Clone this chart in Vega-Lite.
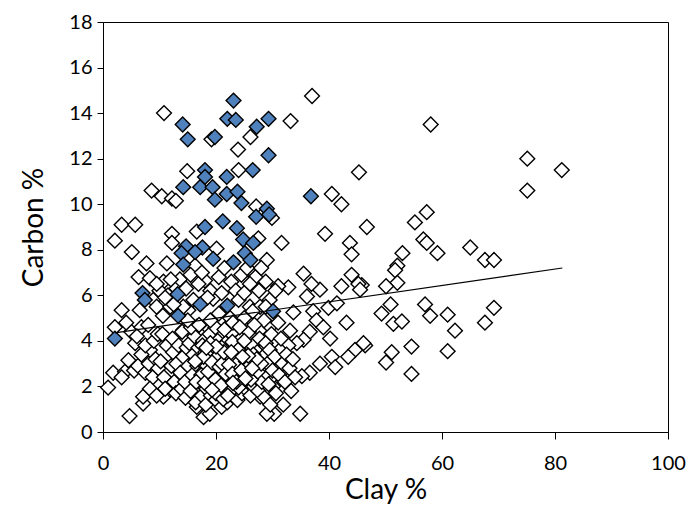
{
  "$schema": "https://vega.github.io/schema/vega-lite/v6.json",
  "width": 565,
  "height": 410,
  "autosize": "none",
  "padding": {"left": 103, "top": 22, "right": 23, "bottom": 77},
  "background": "white",
  "config": {
    "view": {"stroke": "black", "strokeWidth": 1},
    "font": "Lato",
    "axis": {"labelFont": "Lato", "titleFont": "Lato", "labelColor": "black", "titleColor": "black", "domainColor": "black", "tickColor": "black", "grid": false, "titleFontWeight": "normal"}
  },
  "datasets": {
    "pts": [
      {"x": 10.8, "y": 14.0, "g": "o"}, {"x": 37.0, "y": 14.75, "g": "o"}, {"x": 33.2, "y": 13.65, "g": "o"}, {"x": 19.2, "y": 12.85, "g": "o"},
      {"x": 26.1, "y": 12.95, "g": "o"}, {"x": 23.9, "y": 12.4, "g": "o"}, {"x": 14.9, "y": 11.45, "g": "o"}, {"x": 24.0, "y": 11.5, "g": "o"},
      {"x": 45.3, "y": 11.4, "g": "o"}, {"x": 58.0, "y": 13.5, "g": "o"}, {"x": 75.1, "y": 12.0, "g": "o"}, {"x": 81.2, "y": 11.5, "g": "o"},
      {"x": 75.1, "y": 10.6, "g": "o"}, {"x": 40.5, "y": 10.45, "g": "o"}, {"x": 42.2, "y": 10.0, "g": "o"}, {"x": 27.1, "y": 9.9, "g": "o"},
      {"x": 8.6, "y": 10.6, "g": "o"}, {"x": 10.4, "y": 10.35, "g": "o"}, {"x": 12.2, "y": 10.25, "g": "o"}, {"x": 12.9, "y": 10.15, "g": "o"},
      {"x": 29.9, "y": 9.4, "g": "o"}, {"x": 39.3, "y": 8.7, "g": "o"}, {"x": 46.7, "y": 9.0, "g": "o"}, {"x": 43.7, "y": 8.3, "g": "o"},
      {"x": 44.0, "y": 7.8, "g": "o"}, {"x": 31.6, "y": 8.3, "g": "o"}, {"x": 27.5, "y": 8.5, "g": "o"}, {"x": 29.0, "y": 7.55, "g": "o"},
      {"x": 57.3, "y": 9.65, "g": "o"}, {"x": 55.2, "y": 9.2, "g": "o"}, {"x": 56.7, "y": 8.45, "g": "o"}, {"x": 57.3, "y": 8.3, "g": "o"},
      {"x": 59.2, "y": 7.85, "g": "o"}, {"x": 65.0, "y": 8.1, "g": "o"}, {"x": 67.6, "y": 7.55, "g": "o"}, {"x": 69.2, "y": 7.55, "g": "o"},
      {"x": 53.0, "y": 7.85, "g": "o"}, {"x": 52.1, "y": 7.3, "g": "o"}, {"x": 51.7, "y": 7.1, "g": "o"}, {"x": 52.1, "y": 6.55, "g": "o"},
      {"x": 50.1, "y": 6.4, "g": "o"}, {"x": 45.8, "y": 6.45, "g": "o"}, {"x": 50.9, "y": 5.6, "g": "o"}, {"x": 57.0, "y": 5.6, "g": "o"},
      {"x": 69.2, "y": 5.45, "g": "o"}, {"x": 49.3, "y": 5.2, "g": "o"}, {"x": 57.9, "y": 5.1, "g": "o"}, {"x": 61.0, "y": 5.15, "g": "o"},
      {"x": 67.6, "y": 4.8, "g": "o"}, {"x": 51.4, "y": 4.75, "g": "o"}, {"x": 52.9, "y": 4.85, "g": "o"}, {"x": 62.3, "y": 4.45, "g": "o"},
      {"x": 46.4, "y": 3.8, "g": "o"}, {"x": 51.1, "y": 3.5, "g": "o"}, {"x": 54.6, "y": 3.75, "g": "o"}, {"x": 61.0, "y": 3.55, "g": "o"},
      {"x": 50.1, "y": 3.05, "g": "o"}, {"x": 54.6, "y": 2.55, "g": "o"},
      {"x": 3.3, "y": 9.1, "g": "o"}, {"x": 5.7, "y": 9.1, "g": "o"}, {"x": 2.1, "y": 8.4, "g": "o"}, {"x": 5.1, "y": 7.9, "g": "o"},
      {"x": 7.7, "y": 7.4, "g": "o"}, {"x": 12.2, "y": 8.7, "g": "o"}, {"x": 16.6, "y": 8.8, "g": "o"}, {"x": 20.1, "y": 8.05, "g": "o"},
      {"x": 12.2, "y": 8.3, "g": "o"}, {"x": 16.3, "y": 7.3, "g": "o"}, {"x": 11.3, "y": 7.4, "g": "o"}, {"x": 6.3, "y": 6.8, "g": "o"},
      {"x": 8.3, "y": 6.75, "g": "o"}, {"x": 10.7, "y": 6.6, "g": "o"}, {"x": 13.0, "y": 6.3, "g": "o"}, {"x": 18.05, "y": 6.65, "g": "o"},
      {"x": 13.6, "y": 6.7, "g": "o"}, {"x": 3.3, "y": 5.35, "g": "o"}, {"x": 6.5, "y": 5.35, "g": "o"}, {"x": 8.9, "y": 5.8, "g": "o"},
      {"x": 15.1, "y": 5.35, "g": "o"}, {"x": 19.5, "y": 5.85, "g": "o"},
      {"x": 35.5, "y": 6.95, "g": "o"}, {"x": 44.0, "y": 6.9, "g": "o"}, {"x": 32.8, "y": 6.35, "g": "o"}, {"x": 38.4, "y": 6.25, "g": "o"},
      {"x": 42.2, "y": 6.4, "g": "o"}, {"x": 45.2, "y": 6.5, "g": "o"}, {"x": 45.5, "y": 6.25, "g": "o"}, {"x": 36.9, "y": 6.5, "g": "o"},
      {"x": 31.0, "y": 6.4, "g": "o"}, {"x": 33.7, "y": 5.25, "g": "o"}, {"x": 37.2, "y": 5.3, "g": "o"}, {"x": 39.9, "y": 5.45, "g": "o"},
      {"x": 41.4, "y": 5.65, "g": "o"}, {"x": 43.1, "y": 4.8, "g": "o"}, {"x": 36.1, "y": 5.95, "g": "o"},
      {"x": 37.8, "y": 4.9, "g": "o"}, {"x": 39.0, "y": 4.6, "g": "o"}, {"x": 40.2, "y": 4.1, "g": "o"}, {"x": 36.6, "y": 4.4, "g": "o"},
      {"x": 35.5, "y": 4.05, "g": "o"}, {"x": 34.3, "y": 3.9, "g": "o"}, {"x": 32.8, "y": 3.8, "g": "o"}, {"x": 33.1, "y": 4.45, "g": "o"},
      {"x": 46.1, "y": 3.9, "g": "o"}, {"x": 44.6, "y": 3.6, "g": "o"}, {"x": 43.4, "y": 3.3, "g": "o"}, {"x": 40.5, "y": 3.3, "g": "o"},
      {"x": 41.1, "y": 2.85, "g": "o"}, {"x": 38.4, "y": 3.0, "g": "o"}, {"x": 36.6, "y": 2.6, "g": "o"}, {"x": 35.2, "y": 2.45, "g": "o"},
      {"x": 31.9, "y": 1.2, "g": "o"}, {"x": 34.9, "y": 0.8, "g": "o"}, {"x": 30.3, "y": 0.8, "g": "o"}, {"x": 30.1, "y": 2.0, "g": "o"},
      {"x": 31.3, "y": 3.6, "g": "o"}, {"x": 30.7, "y": 3.0, "g": "o"}, {"x": 30.1, "y": 2.45, "g": "o"},
      {"x": 9.5, "y": 5.5, "g": "o"}, {"x": 11.9, "y": 5.5, "g": "o"}, {"x": 14.2, "y": 5.5, "g": "o"}, {"x": 26.0, "y": 5.5, "g": "o"}, {"x": 27.8, "y": 5.5, "g": "o"},
      {"x": 14.2, "y": 4.48, "g": "o"}, {"x": 16.6, "y": 4.62, "g": "o"}, {"x": 18.9, "y": 4.5, "g": "o"}, {"x": 20.7, "y": 4.92, "g": "o"},
      {"x": 23.7, "y": 4.48, "g": "o"}, {"x": 24.8, "y": 4.62, "g": "o"}, {"x": 27.8, "y": 4.48, "g": "o"}, {"x": 29.6, "y": 4.62, "g": "o"},
      {"x": 4.7, "y": 0.7, "g": "o"}, {"x": 0.9, "y": 1.95, "g": "o"}, {"x": 7.1, "y": 1.25, "g": "o"}, {"x": 7.1, "y": 1.55, "g": "o"},
      {"x": 1.8, "y": 2.6, "g": "o"}, {"x": 3.9, "y": 2.65, "g": "o"}, {"x": 3.3, "y": 2.4, "g": "o"}, {"x": 5.7, "y": 3.9, "g": "o"},
      {"x": 4.5, "y": 3.15, "g": "o"}, {"x": 8.3, "y": 3.6, "g": "o"}, {"x": 2.1, "y": 4.6, "g": "o"}, {"x": 10.7, "y": 1.55, "g": "o"},
      {"x": 11.9, "y": 1.85, "g": "o"}, {"x": 17.8, "y": 0.65, "g": "o"}, {"x": 18.9, "y": 0.8, "g": "o"}, {"x": 16.6, "y": 1.1, "g": "o"},
      {"x": 29.0, "y": 0.8, "g": "o"}, {"x": 27.8, "y": 1.55, "g": "o"},
      {"x": 5.5, "y": 2.7, "g": "o"}, {"x": 6.2, "y": 2.9, "g": "o"}, {"x": 7.5, "y": 2.6, "g": "o"}, {"x": 8.1, "y": 3.0, "g": "o"},
      {"x": 8.8, "y": 2.4, "g": "o"}, {"x": 9.3, "y": 3.2, "g": "o"}, {"x": 6.8, "y": 3.4, "g": "o"}, {"x": 7.5, "y": 3.8, "g": "o"},
      {"x": 9.0, "y": 4.0, "g": "o"}, {"x": 9.8, "y": 2.8, "g": "o"}, {"x": 8.3, "y": 1.9, "g": "o"}, {"x": 9.5, "y": 1.6, "g": "o"},
      {"x": 5.0, "y": 4.4, "g": "o"}, {"x": 6.8, "y": 4.6, "g": "o"}, {"x": 8.0, "y": 4.7, "g": "o"}, {"x": 9.7, "y": 4.3, "g": "o"},
      {"x": 4.1, "y": 4.8, "g": "o"}, {"x": 6.0, "y": 4.2, "g": "o"},
      {"x": 10.0, "y": 6.2, "g": "o"}, {"x": 11.5, "y": 6.0, "g": "o"}, {"x": 9.5, "y": 6.5, "g": "o"}, {"x": 12.0, "y": 6.7, "g": "o"}, {"x": 11.0, "y": 5.9, "g": "o"},
      {"x": 15.5, "y": 6.9, "g": "o"}, {"x": 16.9, "y": 6.5, "g": "o"}, {"x": 14.7, "y": 6.3, "g": "o"}, {"x": 17.5, "y": 7.0, "g": "o"},
      {"x": 19.0, "y": 6.2, "g": "o"}, {"x": 20.5, "y": 6.8, "g": "o"}, {"x": 21.5, "y": 7.2, "g": "o"}, {"x": 22.7, "y": 6.6, "g": "o"},
      {"x": 24.5, "y": 6.9, "g": "o"}, {"x": 25.5, "y": 7.2, "g": "o"}, {"x": 27.0, "y": 6.8, "g": "o"}, {"x": 28.0, "y": 7.2, "g": "o"},
      {"x": 27.6, "y": 6.2, "g": "o"}, {"x": 26.0, "y": 6.5, "g": "o"}, {"x": 28.8, "y": 6.6, "g": "o"}, {"x": 21.0, "y": 6.1, "g": "o"},
      {"x": 23.5, "y": 6.2, "g": "o"}, {"x": 24.0, "y": 5.8, "g": "o"}, {"x": 20.5, "y": 5.2, "g": "o"}, {"x": 16.0, "y": 5.8, "g": "o"},
      {"x": 18.5, "y": 5.9, "g": "o"}, {"x": 25.0, "y": 6.1, "g": "o"}, {"x": 29.5, "y": 5.8, "g": "o"}, {"x": 30.5, "y": 6.2, "g": "o"},
      {"x": 22.5, "y": 5.0, "g": "o"}, {"x": 26.5, "y": 5.3, "g": "o"}, {"x": 28.8, "y": 5.5, "g": "o"}, {"x": 12.5, "y": 5.6, "g": "o"}, {"x": 10.6, "y": 5.1, "g": "o"},
      {"x": 10.2, "y": 3.1, "g": "o"}, {"x": 10.8, "y": 2.4, "g": "o"}, {"x": 11.3, "y": 3.8, "g": "o"}, {"x": 11.0, "y": 1.9, "g": "o"}, {"x": 10.5, "y": 4.3, "g": "o"},
      {"x": 12.1, "y": 2.9, "g": "o"}, {"x": 12.4, "y": 3.5, "g": "o"}, {"x": 12.6, "y": 2.2, "g": "o"}, {"x": 12.9, "y": 1.7, "g": "o"}, {"x": 12.3, "y": 4.1, "g": "o"}, {"x": 13.0, "y": 3.0, "g": "o"},
      {"x": 13.4, "y": 3.8, "g": "o"}, {"x": 13.7, "y": 2.6, "g": "o"}, {"x": 13.9, "y": 1.9, "g": "o"}, {"x": 14.2, "y": 3.3, "g": "o"}, {"x": 14.5, "y": 2.2, "g": "o"}, {"x": 14.0, "y": 4.4, "g": "o"}, {"x": 14.8, "y": 3.7, "g": "o"}, {"x": 14.6, "y": 1.5, "g": "o"},
      {"x": 15.1, "y": 2.9, "g": "o"}, {"x": 15.3, "y": 3.9, "g": "o"}, {"x": 15.5, "y": 1.8, "g": "o"}, {"x": 15.8, "y": 2.5, "g": "o"}, {"x": 16.0, "y": 3.4, "g": "o"}, {"x": 16.2, "y": 4.2, "g": "o"}, {"x": 16.4, "y": 1.3, "g": "o"}, {"x": 16.7, "y": 2.9, "g": "o"}, {"x": 16.9, "y": 3.7, "g": "o"}, {"x": 15.6, "y": 4.6, "g": "o"},
      {"x": 17.1, "y": 2.2, "g": "o"}, {"x": 17.3, "y": 3.1, "g": "o"}, {"x": 17.5, "y": 1.6, "g": "o"}, {"x": 17.7, "y": 4.0, "g": "o"}, {"x": 17.9, "y": 2.7, "g": "o"}, {"x": 18.1, "y": 3.5, "g": "o"}, {"x": 18.3, "y": 1.9, "g": "o"}, {"x": 18.5, "y": 2.4, "g": "o"}, {"x": 18.7, "y": 3.0, "g": "o"}, {"x": 18.9, "y": 4.3, "g": "o"}, {"x": 18.2, "y": 1.2, "g": "o"}, {"x": 17.6, "y": 3.8, "g": "o"},
      {"x": 19.1, "y": 1.6, "g": "o"}, {"x": 19.2, "y": 2.8, "g": "o"}, {"x": 19.4, "y": 3.6, "g": "o"}, {"x": 19.6, "y": 2.1, "g": "o"}, {"x": 19.8, "y": 3.2, "g": "o"}, {"x": 20.0, "y": 1.4, "g": "o"}, {"x": 20.1, "y": 2.5, "g": "o"}, {"x": 20.3, "y": 4.0, "g": "o"}, {"x": 20.5, "y": 3.0, "g": "o"}, {"x": 20.6, "y": 1.9, "g": "o"}, {"x": 20.8, "y": 3.5, "g": "o"}, {"x": 19.9, "y": 4.6, "g": "o"}, {"x": 20.9, "y": 2.7, "g": "o"},
      {"x": 21.0, "y": 1.1, "g": "o"}, {"x": 21.1, "y": 2.2, "g": "o"}, {"x": 21.3, "y": 3.3, "g": "o"}, {"x": 21.4, "y": 1.7, "g": "o"}, {"x": 21.6, "y": 2.9, "g": "o"}, {"x": 21.7, "y": 3.9, "g": "o"}, {"x": 21.9, "y": 2.4, "g": "o"}, {"x": 22.0, "y": 1.3, "g": "o"}, {"x": 22.2, "y": 3.1, "g": "o"}, {"x": 22.3, "y": 2.0, "g": "o"}, {"x": 22.5, "y": 3.7, "g": "o"}, {"x": 22.6, "y": 2.6, "g": "o"}, {"x": 22.8, "y": 4.3, "g": "o"}, {"x": 22.9, "y": 1.6, "g": "o"}, {"x": 21.5, "y": 4.5, "g": "o"},
      {"x": 23.0, "y": 2.9, "g": "o"}, {"x": 23.2, "y": 3.4, "g": "o"}, {"x": 23.3, "y": 1.9, "g": "o"}, {"x": 23.5, "y": 2.4, "g": "o"}, {"x": 23.6, "y": 3.9, "g": "o"}, {"x": 23.8, "y": 1.4, "g": "o"}, {"x": 24.0, "y": 2.8, "g": "o"}, {"x": 24.1, "y": 3.3, "g": "o"}, {"x": 24.3, "y": 2.1, "g": "o"}, {"x": 24.5, "y": 4.1, "g": "o"}, {"x": 24.6, "y": 1.7, "g": "o"}, {"x": 24.8, "y": 3.0, "g": "o"}, {"x": 24.9, "y": 2.5, "g": "o"},
      {"x": 25.1, "y": 3.6, "g": "o"}, {"x": 25.2, "y": 1.9, "g": "o"}, {"x": 25.4, "y": 2.8, "g": "o"}, {"x": 25.6, "y": 2.2, "g": "o"}, {"x": 25.8, "y": 4.4, "g": "o"}, {"x": 26.0, "y": 3.2, "g": "o"}, {"x": 26.1, "y": 1.6, "g": "o"}, {"x": 26.3, "y": 2.6, "g": "o"}, {"x": 26.5, "y": 3.8, "g": "o"}, {"x": 26.7, "y": 2.0, "g": "o"}, {"x": 26.9, "y": 3.0, "g": "o"},
      {"x": 27.1, "y": 2.4, "g": "o"}, {"x": 27.3, "y": 3.5, "g": "o"}, {"x": 27.5, "y": 1.8, "g": "o"}, {"x": 27.7, "y": 4.1, "g": "o"}, {"x": 27.9, "y": 2.8, "g": "o"}, {"x": 28.1, "y": 2.2, "g": "o"}, {"x": 28.3, "y": 3.3, "g": "o"}, {"x": 28.6, "y": 1.5, "g": "o"}, {"x": 28.8, "y": 3.9, "g": "o"}, {"x": 28.9, "y": 2.6, "g": "o"},
      {"x": 29.1, "y": 3.0, "g": "o"}, {"x": 29.3, "y": 2.1, "g": "o"}, {"x": 29.5, "y": 3.6, "g": "o"}, {"x": 29.8, "y": 4.3, "g": "o"}, {"x": 30.0, "y": 2.7, "g": "o"}, {"x": 30.4, "y": 3.3, "g": "o"}, {"x": 30.6, "y": 1.7, "g": "o"}, {"x": 29.6, "y": 1.2, "g": "o"},
      {"x": 31.2, "y": 2.5, "g": "o"}, {"x": 31.5, "y": 4.1, "g": "o"}, {"x": 31.8, "y": 3.0, "g": "o"}, {"x": 32.2, "y": 2.2, "g": "o"}, {"x": 32.5, "y": 3.4, "g": "o"}, {"x": 33.0, "y": 2.8, "g": "o"}, {"x": 33.3, "y": 1.8, "g": "o"}, {"x": 33.6, "y": 3.2, "g": "o"}, {"x": 34.0, "y": 2.4, "g": "o"},
      {"x": 15.0, "y": 4.9, "g": "o"}, {"x": 17.0, "y": 4.7, "g": "o"}, {"x": 19.0, "y": 4.9, "g": "o"}, {"x": 23.0, "y": 4.8, "g": "o"}, {"x": 25.0, "y": 5.0, "g": "o"}, {"x": 28.5, "y": 4.9, "g": "o"}, {"x": 31.0, "y": 4.8, "g": "o"}, {"x": 24.2, "y": 4.6, "g": "o"}, {"x": 26.8, "y": 4.7, "g": "o"},
      {"x": 18.4, "y": 2.9, "g": "o"}, {"x": 18.8, "y": 3.3, "g": "o"}, {"x": 19.5, "y": 2.4, "g": "o"}, {"x": 19.7, "y": 2.75, "g": "o"}, {"x": 20.2, "y": 3.3, "g": "o"}, {"x": 20.4, "y": 2.2, "g": "o"}, {"x": 20.7, "y": 2.45, "g": "o"}, {"x": 21.2, "y": 2.65, "g": "o"},
      {"x": 21.5, "y": 3.1, "g": "o"}, {"x": 21.8, "y": 2.1, "g": "o"}, {"x": 22.1, "y": 2.8, "g": "o"}, {"x": 22.4, "y": 3.35, "g": "o"}, {"x": 22.7, "y": 2.3, "g": "o"}, {"x": 23.1, "y": 3.15, "g": "o"}, {"x": 23.4, "y": 2.65, "g": "o"}, {"x": 23.7, "y": 3.0, "g": "o"},
      {"x": 24.2, "y": 2.45, "g": "o"}, {"x": 24.4, "y": 3.55, "g": "o"}, {"x": 24.7, "y": 2.2, "g": "o"}, {"x": 25.3, "y": 3.1, "g": "o"}, {"x": 25.5, "y": 2.5, "g": "o"}, {"x": 25.9, "y": 2.9, "g": "o"}, {"x": 26.2, "y": 2.3, "g": "o"}, {"x": 26.6, "y": 3.4, "g": "o"},
      {"x": 17.4, "y": 2.5, "g": "o"}, {"x": 17.8, "y": 3.3, "g": "o"}, {"x": 16.5, "y": 2.2, "g": "o"}, {"x": 16.3, "y": 3.1, "g": "o"}, {"x": 19.0, "y": 3.9, "g": "o"}, {"x": 21.0, "y": 3.7, "g": "o"}, {"x": 22.9, "y": 3.95, "g": "o"}, {"x": 25.0, "y": 4.0, "g": "o"},
      {"x": 20.0, "y": 1.7, "g": "o"}, {"x": 22.6, "y": 1.8, "g": "o"}, {"x": 24.0, "y": 1.95, "g": "o"}, {"x": 18.7, "y": 2.05, "g": "o"}, {"x": 27.4, "y": 2.65, "g": "o"}, {"x": 28.0, "y": 3.0, "g": "o"}, {"x": 27.2, "y": 3.2, "g": "o"}, {"x": 21.3, "y": 1.45, "g": "o"},
      {"x": 18.0, "y": 2.15, "g": "o"}, {"x": 18.6, "y": 2.65, "g": "o"}, {"x": 19.3, "y": 3.05, "g": "o"}, {"x": 19.9, "y": 2.3, "g": "o"}, {"x": 20.6, "y": 2.85, "g": "o"}, {"x": 21.1, "y": 3.0, "g": "o"}, {"x": 21.7, "y": 2.55, "g": "o"}, {"x": 22.3, "y": 2.95, "g": "o"},
      {"x": 22.9, "y": 2.55, "g": "o"}, {"x": 23.6, "y": 2.2, "g": "o"}, {"x": 23.9, "y": 3.6, "g": "o"}, {"x": 24.5, "y": 2.7, "g": "o"}, {"x": 25.2, "y": 2.35, "g": "o"}, {"x": 25.7, "y": 3.35, "g": "o"}, {"x": 26.4, "y": 2.8, "g": "o"}, {"x": 20.9, "y": 2.05, "g": "o"},
      {"x": 19.3, "y": 1.85, "g": "o"}, {"x": 22.1, "y": 1.6, "g": "o"}, {"x": 23.0, "y": 2.15, "g": "o"}, {"x": 21.4, "y": 3.5, "g": "o"}, {"x": 20.0, "y": 3.75, "g": "o"}, {"x": 22.7, "y": 3.5, "g": "o"}, {"x": 24.7, "y": 3.3, "g": "o"}, {"x": 18.3, "y": 3.7, "g": "o"},
      {"x": 2.1, "y": 4.1, "g": "b"}, {"x": 7.0, "y": 6.1, "g": "b"}, {"x": 7.4, "y": 5.8, "g": "b"}, {"x": 13.2, "y": 6.05, "g": "b"},
      {"x": 13.3, "y": 5.1, "g": "b"}, {"x": 17.2, "y": 5.6, "g": "b"}, {"x": 22.0, "y": 5.55, "g": "b"}, {"x": 30.1, "y": 5.3, "g": "b"},
      {"x": 14.1, "y": 13.5, "g": "b"}, {"x": 15.0, "y": 12.85, "g": "b"}, {"x": 19.8, "y": 12.95, "g": "b"}, {"x": 23.1, "y": 14.55, "g": "b"},
      {"x": 22.0, "y": 13.75, "g": "b"}, {"x": 23.5, "y": 13.7, "g": "b"}, {"x": 29.3, "y": 13.75, "g": "b"}, {"x": 27.2, "y": 13.4, "g": "b"},
      {"x": 29.3, "y": 12.15, "g": "b"}, {"x": 26.5, "y": 11.5, "g": "b"}, {"x": 18.05, "y": 11.5, "g": "b"}, {"x": 18.05, "y": 11.2, "g": "b"},
      {"x": 21.9, "y": 11.2, "g": "b"}, {"x": 14.2, "y": 10.75, "g": "b"}, {"x": 17.2, "y": 10.75, "g": "b"}, {"x": 19.4, "y": 10.75, "g": "b"},
      {"x": 19.8, "y": 10.2, "g": "b"}, {"x": 21.9, "y": 10.45, "g": "b"}, {"x": 23.8, "y": 10.55, "g": "b"}, {"x": 24.5, "y": 10.05, "g": "b"},
      {"x": 29.0, "y": 9.8, "g": "b"}, {"x": 36.8, "y": 10.35, "g": "b"}, {"x": 27.1, "y": 9.45, "g": "b"}, {"x": 29.4, "y": 9.55, "g": "b"},
      {"x": 18.05, "y": 9.0, "g": "b"}, {"x": 21.2, "y": 9.25, "g": "b"}, {"x": 23.7, "y": 8.95, "g": "b"}, {"x": 14.7, "y": 8.15, "g": "b"},
      {"x": 17.6, "y": 8.1, "g": "b"}, {"x": 16.3, "y": 7.9, "g": "b"}, {"x": 13.9, "y": 7.85, "g": "b"}, {"x": 14.2, "y": 7.35, "g": "b"},
      {"x": 19.5, "y": 7.6, "g": "b"}, {"x": 23.1, "y": 7.45, "g": "b"}, {"x": 24.8, "y": 8.45, "g": "b"}, {"x": 26.6, "y": 8.3, "g": "b"},
      {"x": 25.1, "y": 7.85, "g": "b"}, {"x": 26.1, "y": 7.55, "g": "b"}
    ],
    "trend": [
      {"x": 2.1, "y": 4.35},
      {"x": 81.3, "y": 7.2}
    ]
  },
  "layer": [
    {
      "data": {"name": "pts"},
      "mark": {"type": "point", "shape": "diamond", "size": 220, "filled": true, "stroke": "black", "strokeWidth": 1.4, "opacity": 1},
      "encoding": {
        "x": {"field": "x", "type": "quantitative", "scale": {"domain": [0, 100]},
          "axis": {"values": [0, 20, 40, 60, 80, 100], "title": "Clay %", "titleFontSize": 28, "labelFontSize": 20, "tickSize": 7, "labelPadding": 14, "titlePadding": 3, "labelFlush": false}},
        "y": {"field": "y", "type": "quantitative", "scale": {"domain": [0, 18]},
          "axis": {"values": [0, 2, 4, 6, 8, 10, 12, 14, 16, 18], "title": "Carbon %", "titleFontSize": 28, "labelFontSize": 20, "tickSize": 6, "labelPadding": 5, "titlePadding": 20}},
        "fill": {"field": "g", "type": "nominal", "scale": {"domain": ["o", "b"], "range": ["white", "#4F81BD"]}, "legend": null}
      }
    },
    {
      "data": {"name": "trend"},
      "mark": {"type": "line", "color": "black", "strokeWidth": 1.2},
      "encoding": {
        "x": {"field": "x", "type": "quantitative"},
        "y": {"field": "y", "type": "quantitative"}
      }
    }
  ]
}
